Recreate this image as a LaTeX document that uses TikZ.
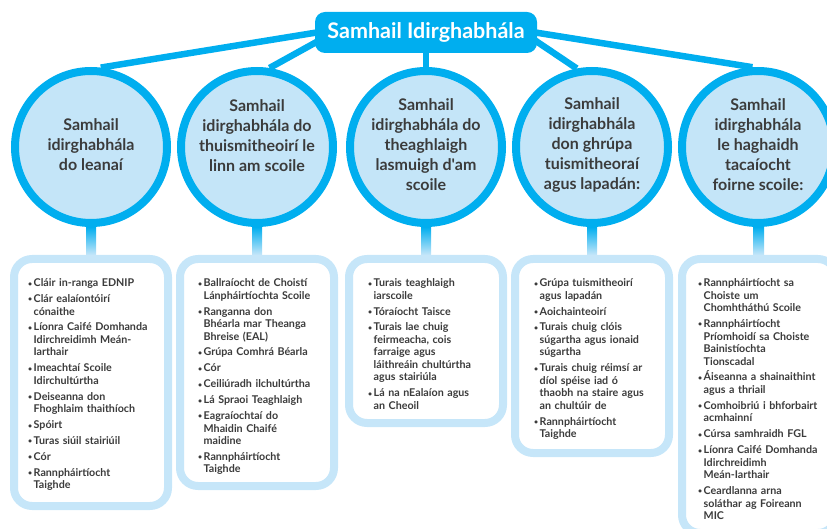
\documentclass[tikz,border=0pt]{standalone}
\usepackage{fontspec}
\setmainfont{Lato}
\newfontfamily\qfont{Lato}
\usetikzlibrary{calc}
\definecolor{cy}{HTML}{00AEEF}
\definecolor{lb}{HTML}{C4E5F8}
\definecolor{lbb}{HTML}{C6E6F9}
\definecolor{txt}{HTML}{3B3B3B}
\pgfdeclarelayer{bg}
\pgfsetlayers{bg,main}
\newcommand\bi[1]{\par\hangindent=5.5pt\hangafter=1\noindent\makebox[5.5pt][l]{\raisebox{0.6pt}{\scriptsize\textbullet}}#1\par\vspace{3.4pt}}
\tikzset{
  titlebox/.style={fill=cy, rounded corners=10pt, minimum width=222pt, minimum height=41pt, text=white, font=\bfseries\fontsize{21.5}{24}\selectfont, inner sep=0pt},
  bubble/.style={circle, draw=cy, line width=8pt, fill=lb, minimum size=152pt, inner sep=0pt},
  bubbletext/.style={text=txt, font=\bfseries\fontsize{16}{20}\selectfont, align=center, inner sep=0pt},
  listbox/.style={draw=lbb, line width=8pt, fill=white, rounded corners=18pt, minimum width=154pt, inner sep=0pt},
  listtext/.style={text=txt, font=\bfseries\fontsize{10.7}{12.5}\selectfont, text width=150pt, align=left, anchor=north west, inner sep=0pt},
  link/.style={draw=cy, line width=6.5pt},
}
\begin{document}
\begin{tikzpicture}[x=1pt,y=-1pt]
\useasboundingbox (0,0) rectangle (827,529);
\clip (0,0) rectangle (827,529);
\node[titlebox] (t) at (426,32.5) {Samhail Idirghabhála};
\node[bubble] (c1) at (91,147) {};
\node[bubble] (c2) at (257,147) {};
\node[bubble] (c3) at (426,147) {};
\node[bubble] (c4) at (592,147) {};
\node[bubble] (c5) at (758,147) {};
\node[bubbletext] (c1t) at (91,145) {Samhail\\idirghabhála\\do leanaí};
\node[bubbletext] (c2t) at (257,136) {Samhail\\idirghabhála do\\thuismitheoirí le\\linn am scoile};
\node[bubbletext] (c3t) at (426,145) {Samhail\\idirghabhála do\\theaghlaigh\\lasmuigh d{\qfont'}am\\scoile};
\node[bubbletext] (c4t) at (592,145) {Samhail\\idirghabhála\\don ghrúpa\\tuismitheoraí\\agus lapadán:};
\node[bubbletext] (c5t) at (758,145) {Samhail\\idirghabhála\\le haghaidh\\tacaíocht\\foirne scoile:};
\node[listbox, minimum height=247pt] (b1) at (91,382.5) {};
\node[listbox, minimum height=227pt] (b2) at (257,372.5) {};
\node[listbox, minimum height=164pt] (b3) at (426,341) {};
\node[listbox, minimum height=194pt] (b4) at (592,356) {};
\node[listbox, minimum height=274pt] (b5) at (759,396) {};
\node[listtext] (l1) at (28,274) {%
\bi{Cláir in-ranga EDNIP}
\bi{Clár ealaíontóirí\newline cónaithe}
\bi{Líonra Caifé Domhanda\newline Idirchreidimh Meán-\newline Iarthair}
\bi{Imeachtaí Scoile\newline Idirchultúrtha}
\bi{Deiseanna don\newline Fhoghlaim thaithíoch}
\bi{Spóirt}
\bi{Turas siúil stairiúil}
\bi{Cór}
\bi{Rannpháirtíocht\newline Taighde}};
\node[listtext] (l2) at (198,274) {%
\bi{Ballraíocht de Choistí\newline Lánpháirtíochta Scoile}
\bi{Ranganna don\newline Bhéarla mar Theanga\newline Bhreise (EAL)}
\bi{Grúpa Comhrá Béarla}
\bi{Cór}
\bi{Ceiliúradh ilchultúrtha}
\bi{Lá Spraoi Teaghlaigh}
\bi{Eagraíochtaí do\newline Mhaidin Chaifé\newline maidine}
\bi{Rannpháirtíocht\newline Taighde}};
\node[listtext] (l3) at (368,274) {%
\bi{Turais teaghlaigh\newline iarscoile}
\bi{Tóraíocht Taisce}
\bi{Turais lae chuig\newline feirmeacha, cois\newline farraige agus\newline láithreáin chultúrtha\newline agus stairiúla}
\bi{Lá na nEalaíon agus\newline an Cheoil}};
\node[listtext] (l4) at (534,274) {%
\bi{Grúpa tuismitheoirí\newline agus lapadán}
\bi{Aoichainteoirí}
\bi{Turais chuig clóis\newline súgartha agus ionaid\newline súgartha}
\bi{Turais chuig réimsí ar\newline díol spéise iad ó\newline thaobh na staire agus\newline an chultúir de}
\bi{Rannpháirtíocht\newline Taighde}};
\node[listtext] (l5) at (698,274) {%
\bi{Rannpháirtíocht sa\newline Choiste um\newline Chomhtháthú Scoile}
\bi{Rannpháirtíocht\newline Príomhoidí sa Choiste\newline Bainistíochta\newline Tionscadal}
\bi{Áiseanna a shainaithint\newline agus a thriail}
\bi{Comhoibriú i bhforbairt\newline acmhainní}
\bi{Cúrsa samhraidh FGL}
\bi{Líonra Caifé Domhanda\newline Idirchreidimh\newline Meán-Iarthair}
\bi{Ceardlanna arna\newline soláthar ag Foireann\newline MIC}};
\begin{pgfonlayer}{bg}
\draw[link] ([xshift=8pt,yshift=1pt]t.west) -- (c1.83);
\draw[link] ([xshift=8pt,yshift=-6pt]t.west) -- (c2.81);
\draw[link] (t.south) -- (c3.north);
\draw[link] ([xshift=-8pt,yshift=-4pt]t.east) -- (c4.101);
\draw[link] ([xshift=-8pt,yshift=1pt]t.east) -- (c5.94);
\shade[top color=cy, bottom color=lbb] ([xshift=-5pt]c1.south) rectangle ([xshift=5pt]b1.north);
\shade[top color=cy, bottom color=lbb] ([xshift=-5pt]c2.south) rectangle ([xshift=5pt]b2.north);
\shade[top color=cy, bottom color=lbb] ([xshift=-5pt]c3.south) rectangle ([xshift=5pt]b3.north);
\shade[top color=cy, bottom color=lbb] ([xshift=-5pt]c4.south) rectangle ([xshift=5pt]b4.north);
\shade[top color=cy, bottom color=lbb] ([xshift=-5pt]c5.south) rectangle ([xshift=5pt]b5.north);
\end{pgfonlayer}
\end{tikzpicture}
\end{document}
